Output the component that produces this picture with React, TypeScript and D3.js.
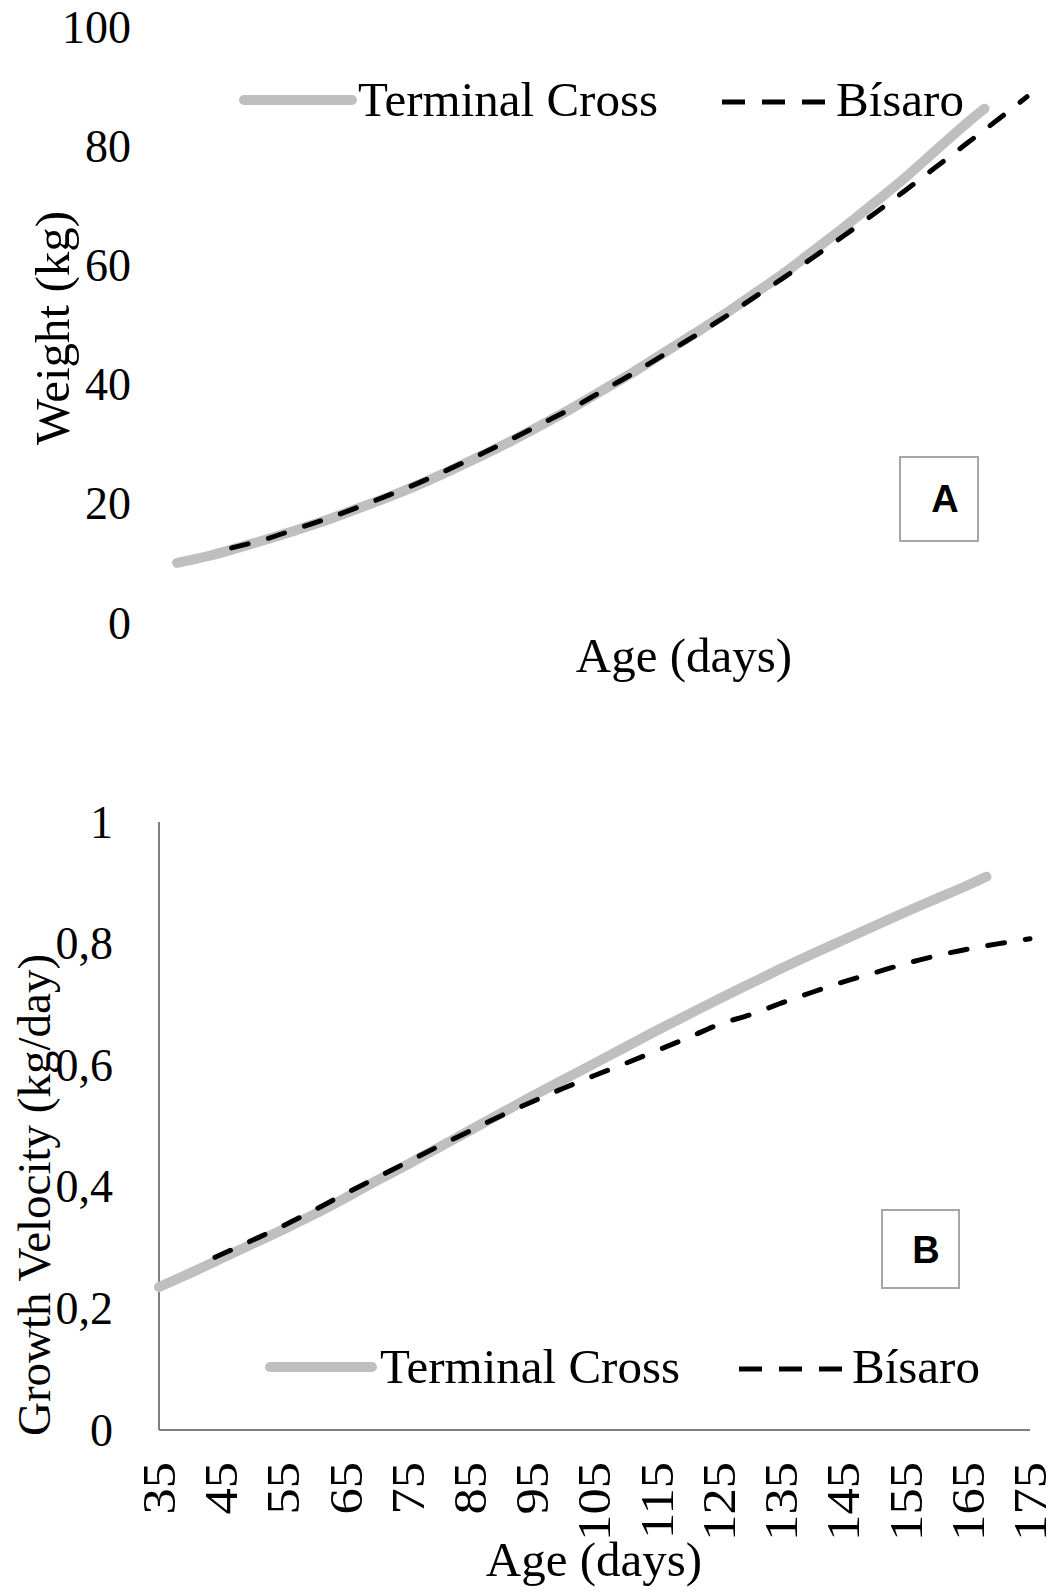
import React from "react";
import * as d3 from "d3";

// ---------- Data ----------
const weightTicks = [0, 20, 40, 60, 80, 100];
const velocityTicks = [0, 0.2, 0.4, 0.6, 0.8, 1];
const velocityTickLabels = ["0", "0,2", "0,4", "0,6", "0,8", "1"];
const ageTicks = [35, 45, 55, 65, 75, 85, 95, 105, 115, 125, 135, 145, 155, 165, 175];

const tcAge = [35, 40, 45, 50, 55, 60, 65, 70, 75, 80, 85, 90, 95, 100, 105, 110, 115, 120, 125, 130, 135, 140, 145, 150, 155, 160, 165, 168];
const tcWeight = [10.1, 11.2, 12.6, 14.1, 15.7, 17.4, 19.3, 21.2, 23.3, 25.6, 28.0, 30.5, 33.2, 36.0, 39.0, 42.0, 45.2, 48.4, 51.7, 55.2, 58.7, 62.6, 66.5, 70.6, 74.8, 79.3, 83.8, 86.3];
const tcVelocity = [0.235, 0.258, 0.282, 0.306, 0.33, 0.355, 0.382, 0.41, 0.437, 0.465, 0.493, 0.521, 0.549, 0.576, 0.603, 0.63, 0.657, 0.683, 0.709, 0.734, 0.759, 0.783, 0.806, 0.829, 0.852, 0.874, 0.896, 0.91];

const bsAge = [44, 50, 55, 60, 65, 70, 75, 80, 85, 90, 95, 100, 105, 110, 115, 120, 125, 130, 135, 140, 145, 150, 155, 160, 165, 170, 175];
const bsWeight = [12.6, 14.2, 15.9, 17.6, 19.5, 21.5, 23.6, 25.9, 28.3, 30.8, 33.4, 36.0, 38.9, 41.8, 44.9, 48.0, 51.2, 54.6, 58.0, 61.5, 65.1, 68.8, 72.6, 76.5, 80.4, 84.3, 88.3];
const bsVelocity = [0.284, 0.312, 0.336, 0.362, 0.389, 0.415, 0.441, 0.467, 0.492, 0.517, 0.54, 0.562, 0.583, 0.603, 0.624, 0.645, 0.667, 0.683, 0.702, 0.72, 0.737, 0.752, 0.767, 0.78, 0.791, 0.8, 0.808];

const seriesNames = ["Terminal Cross", "Bísaro"];

// ---------- Styles ----------
const SERIF = "'Liberation Serif', 'Times New Roman', serif";
const GRAY = "#bfbfbf";
const FS = 46;
const FS_LABEL = 49;

export default function App() {
  const W = 1063;
  const H = 1596;

  // Panel A scales
  const xA = d3.scaleLinear().domain([35, 175]).range([177, 1027]);
  const yA = d3.scaleLinear().domain([0, 100]).range([623, 27]);
  // Panel B scales
  const xB = d3.scaleLinear().domain([35, 175]).range([159, 1030]);
  const yB = d3.scaleLinear().domain([0, 1]).range([1430, 822]);

  const lineA = d3
    .line<[number, number]>()
    .x((d) => xA(d[0]))
    .y((d) => yA(d[1]))
    .curve(d3.curveMonotoneX);
  const lineB = d3
    .line<[number, number]>()
    .x((d) => xB(d[0]))
    .y((d) => yB(d[1]))
    .curve(d3.curveMonotoneX);

  const tcA = lineA(tcAge.map((a, i) => [a, tcWeight[i]] as [number, number])) || "";
  const bsA = lineA(bsAge.map((a, i) => [a, bsWeight[i]] as [number, number])) || "";
  const tcB = lineB(tcAge.map((a, i) => [a, tcVelocity[i]] as [number, number])) || "";
  const bsB = lineB(bsAge.map((a, i) => [a, bsVelocity[i]] as [number, number])) || "";

  const legend = (ly: number, x0: number, x1: number, tx: number, dx0: number, dx1: number, btx: number) => (
    <g>
      <line x1={x0} x2={x1} y1={ly} y2={ly} stroke={GRAY} strokeWidth={10} strokeLinecap="round" />
      <text x={tx} y={ly + 16} fontFamily={SERIF} fontSize={FS_LABEL} fill="#000">
        {seriesNames[0]}
      </text>
      <line x1={dx0} x2={dx1} y1={ly + 2} y2={ly + 2} stroke="#000" strokeWidth={5} strokeDasharray="23,17" />
      <text x={btx} y={ly + 16} fontFamily={SERIF} fontSize={FS_LABEL} fill="#000">
        {seriesNames[1]}
      </text>
    </g>
  );

  return (
    <svg
      width={W}
      height={H}
      viewBox={`0 0 ${W} ${H}`}
      style={{ position: "absolute", left: 0, top: 0, display: "block", background: "#fff" }}
    >
      <rect x={0} y={0} width={W} height={H} fill="#fff" />

      {/* ---------------- Panel A ---------------- */}
      <g>
        {weightTicks.map((t) => (
          <text
            key={"ya" + t}
            x={131}
            y={yA(t)}
            dy="0.34em"
            textAnchor="end"
            fontFamily={SERIF}
            fontSize={FS}
            fill="#000"
          >
            {t}
          </text>
        ))}
        <text
          transform={`translate(52,${328}) rotate(-90)`}
          textAnchor="middle"
          dy="0.34em"
          fontFamily={SERIF}
          fontSize={FS_LABEL}
          fill="#000"
        >
          Weight (kg)
        </text>
        <text x={684} y={672} textAnchor="middle" fontFamily={SERIF} fontSize={FS_LABEL} fill="#000">
          Age (days)
        </text>

        <path d={tcA} fill="none" stroke={GRAY} strokeWidth={10} strokeLinecap="round" />
        <path
          d={bsA}
          fill="none"
          stroke="#000"
          strokeWidth={5}
          strokeDasharray="17,21"
          strokeLinecap="round"
        />

        {legend(100, 244, 352, 358, 722, 827, 836)}

        <rect x={900} y={457} width={78} height={84} fill="#fff" stroke="#a6a6a6" strokeWidth={2} />
        <text
          x={945}
          y={499}
          dy="0.35em"
          textAnchor="middle"
          fontFamily="'Liberation Sans', Arial, sans-serif"
          fontWeight="bold"
          fontSize={38}
          fill="#000"
        >
          A
        </text>
      </g>

      {/* ---------------- Panel B ---------------- */}
      <g>
        <line x1={xB(35)} x2={xB(35)} y1={yB(1)} y2={yB(0)} stroke="#7f7f7f" strokeWidth={2} />
        <line x1={xB(35)} x2={xB(175)} y1={yB(0)} y2={yB(0)} stroke="#7f7f7f" strokeWidth={2} />

        {velocityTicks.map((t, i) => (
          <text
            key={"yb" + t}
            x={113}
            y={yB(t)}
            dy="0.34em"
            textAnchor="end"
            fontFamily={SERIF}
            fontSize={FS}
            fill="#000"
          >
            {velocityTickLabels[i]}
          </text>
        ))}

        {ageTicks.map((a) => (
          <text
            key={"xb" + a}
            transform={`translate(${xB(a)},1462) rotate(-90) scale(1.12,1)`}
            textAnchor="end"
            dy="0.34em"
            fontFamily={SERIF}
            fontSize={47}
            fill="#000"
          >
            {a}
          </text>
        ))}

        <text
          transform={`translate(34,1195) rotate(-90)`}
          textAnchor="middle"
          dy="0.34em"
          fontFamily={SERIF}
          fontSize={47}
          fill="#000"
        >
          Growth Velocity (kg/day)
        </text>
        <text x={594} y={1576} textAnchor="middle" fontFamily={SERIF} fontSize={FS_LABEL} fill="#000">
          Age (days)
        </text>

        <path d={tcB} fill="none" stroke={GRAY} strokeWidth={10} strokeLinecap="round" />
        <path
          d={bsB}
          fill="none"
          stroke="#000"
          strokeWidth={5}
          strokeDasharray="17,21"
          strokeLinecap="round"
        />

        {legend(1367, 270, 372, 380, 739, 843, 852)}

        <rect x={882} y={1210} width={77} height={78} fill="#fff" stroke="#a6a6a6" strokeWidth={2} />
        <text
          x={926}
          y={1250}
          dy="0.35em"
          textAnchor="middle"
          fontFamily="'Liberation Sans', Arial, sans-serif"
          fontWeight="bold"
          fontSize={38}
          fill="#000"
        >
          B
        </text>
      </g>
    </svg>
  );
}
